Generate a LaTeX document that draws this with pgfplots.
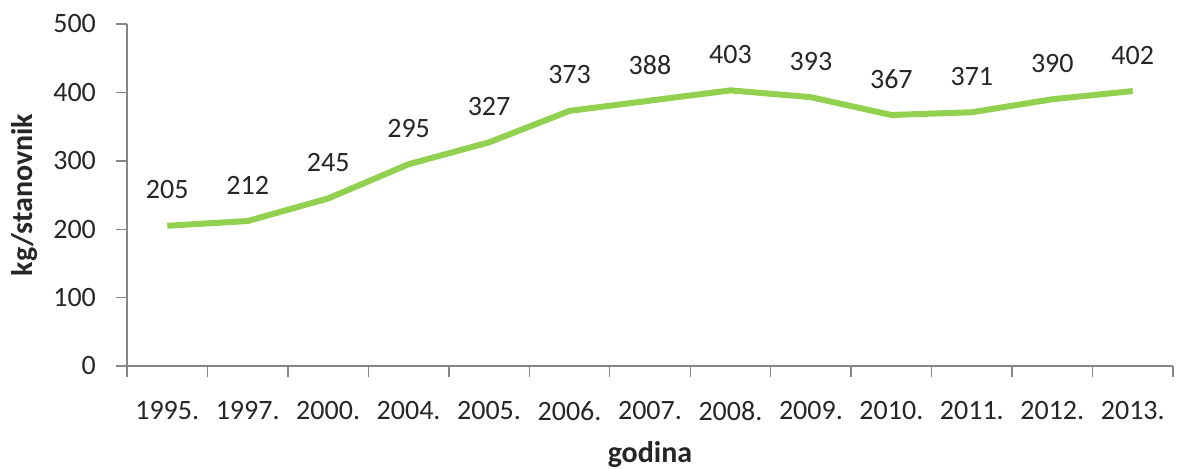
\documentclass[border=0pt]{standalone}
\usepackage{fontspec}
\setmainfont{Carlito}
\usepackage{pgfplots}
\pgfplotsset{compat=1.18}

\definecolor{linegreen}{RGB}{146,208,80}
\definecolor{axisgray}{RGB}{134,134,134}
\definecolor{txt}{RGB}{38,38,38}

\begin{document}
\begin{tikzpicture}
% page = 1178x468 px at 0.5pt per px, axis box lower left at (0,0)
\useasboundingbox (-63.5pt,-51pt) rectangle (525.5pt,183pt);
\begin{axis}[
  scale only axis,
  width=523pt, height=171pt,
  xmin=-0.5, xmax=12.5,
  ymin=0, ymax=500,
  axis x line=bottom, axis y line=left,
  axis line style={axisgray, line width=0.7pt, -},
  every tick/.style={axisgray, line width=0.7pt},
  tick align=outside,
  major tick length=5.5pt,
  xtick={-0.5,0.5,...,12.5},
  x tick label as interval,
  xticklabels={1995.,1997.,2000.,2004.,2005.,2006.,2007.,2008.,2009.,2010.,2011.,2012.,2013.},
  ytick={0,100,...,500},
  /pgf/number format/assume math mode=true,
  tick label style={font=\fontsize{14}{16}\selectfont, text=txt},
  xticklabel style={anchor=center, yshift=-17pt},
  yticklabel style={anchor=east, xshift=-6.5pt},
  xlabel={godina},
  ylabel={kg/stanovnik},
  xlabel style={font=\fontsize{15}{17}\selectfont\bfseries, text=txt,
    at={(axis cs:6,-129)}, anchor=center},
  ylabel style={font=\fontsize{15}{17}\selectfont\bfseries, text=txt,
    at={(axis cs:-1.77,250)}, anchor=center},
  nodes near coords,
  every node near coord/.append style={font=\fontsize{14}{16}\selectfont,
    text=txt, anchor=center, yshift=18pt},
  clip=false,
]
\addplot[linegreen, line width=3pt, mark=none, line join=round] coordinates {
(0,205)
(1,212)
(2,245)
(3,295)
(4,327)
(5,373)
(6,388)
(7,403)
(8,393)
(9,367)
(10,371)
(11,390)
(12,402)
};
\end{axis}
\end{tikzpicture}
\end{document}
